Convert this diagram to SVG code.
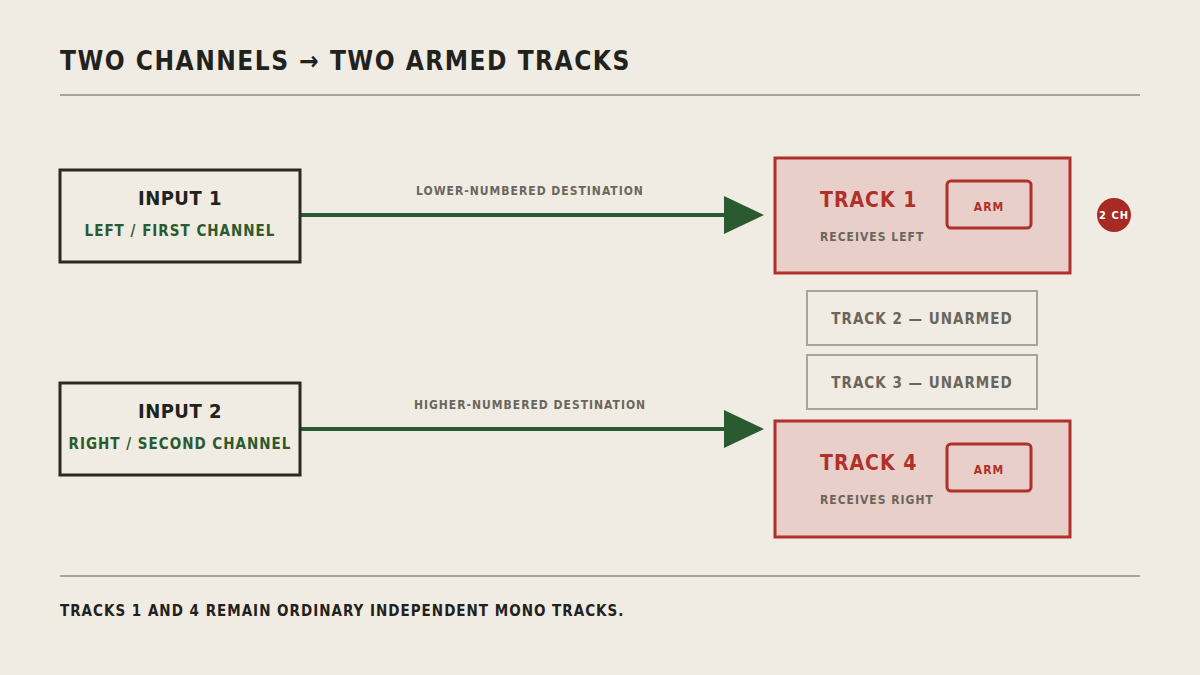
<svg xmlns="http://www.w3.org/2000/svg" width="1200" height="675" viewBox="0 0 1200 675">
<style>
text{font-family:"DejaVu Sans Condensed","DejaVu Sans","Liberation Sans",sans-serif;font-weight:bold;font-stretch:condensed}
.in{fill:none;stroke:#2a2a22;stroke-width:3}
.tr{fill:#e8cfca;stroke:#b0302a;stroke-width:3}
.arm{fill:none;stroke:#b0302a;stroke-width:3}
.un{fill:none;stroke:#a8a398;stroke-width:2}
.g{fill:#6b665c}
.r{fill:#b0302a}
</style>
<rect width="1200" height="675" fill="#f0ebe3"/>
<text x="60" y="70" font-size="26" fill="#22221c" letter-spacing="1.5">TWO CHANNELS → TWO ARMED TRACKS</text>
<line x1="60" y1="95" x2="1140" y2="95" stroke="#a8a398" stroke-width="2"/>
<g id="connectors">
<line x1="300" y1="215" x2="726" y2="215" stroke="#2a5a30" stroke-width="4"/>
<polygon points="724,196 764,215 724,234" fill="#2a5a30"/>
<text x="530" y="195" font-size="12" class="g" text-anchor="middle" letter-spacing="1">LOWER-NUMBERED DESTINATION</text>
<line x1="300" y1="429" x2="726" y2="429" stroke="#2a5a30" stroke-width="4"/>
<polygon points="724,410 764,429 724,448" fill="#2a5a30"/>
<text x="530" y="409" font-size="12" class="g" text-anchor="middle" letter-spacing="1">HIGHER-NUMBERED DESTINATION</text>
</g>
<g id="input1">
<rect x="60" y="170" width="240" height="92" class="in"/>
<text x="180" y="205" font-size="20" fill="#22221c" text-anchor="middle" letter-spacing="0.5">INPUT 1</text>
<text x="180" y="236" font-size="15" fill="#2a5a2e" text-anchor="middle" letter-spacing="1">LEFT / FIRST CHANNEL</text>
</g>
<g id="input2">
<rect x="60" y="383" width="240" height="92" class="in"/>
<text x="180" y="418" font-size="20" fill="#22221c" text-anchor="middle" letter-spacing="0.5">INPUT 2</text>
<text x="180" y="449" font-size="15" fill="#2a5a2e" text-anchor="middle" letter-spacing="1">RIGHT / SECOND CHANNEL</text>
</g>
<g id="track1">
<rect x="775" y="158" width="295" height="115" class="tr"/>
<text x="820" y="207" font-size="21" class="r" letter-spacing="1">TRACK 1</text>
<text x="820" y="241" font-size="12" class="g" letter-spacing="1">RECEIVES LEFT</text>
<rect x="947" y="181" width="84" height="47" rx="4" class="arm"/>
<text x="989" y="211" font-size="12" class="r" text-anchor="middle" letter-spacing="1">ARM</text>
</g>
<g id="badge">
<circle cx="1114" cy="215" r="17" fill="#a82a24"/>
<text x="1114" y="219" font-size="11" fill="#ffffff" text-anchor="middle" letter-spacing="1">2 CH</text>
</g>
<g id="track2">
<rect x="807" y="291" width="230" height="54" class="un"/>
<text x="922" y="324" font-size="15" class="g" text-anchor="middle" letter-spacing="1">TRACK 2 — UNARMED</text>
</g>
<g id="track3">
<rect x="807" y="355" width="230" height="54" class="un"/>
<text x="922" y="388" font-size="15" class="g" text-anchor="middle" letter-spacing="1">TRACK 3 — UNARMED</text>
</g>
<g id="track4">
<rect x="775" y="421" width="295" height="116" class="tr"/>
<text x="820" y="470" font-size="21" class="r" letter-spacing="1">TRACK 4</text>
<text x="820" y="504" font-size="12" class="g" letter-spacing="1">RECEIVES RIGHT</text>
<rect x="947" y="444" width="84" height="47" rx="4" class="arm"/>
<text x="989" y="474" font-size="12" class="r" text-anchor="middle" letter-spacing="1">ARM</text>
</g>
<line x1="60" y1="576" x2="1140" y2="576" stroke="#a8a398" stroke-width="2"/>
<text x="60" y="616" font-size="15" fill="#22221c" letter-spacing="1">TRACKS 1 AND 4 REMAIN ORDINARY INDEPENDENT MONO TRACKS.</text>
</svg>
